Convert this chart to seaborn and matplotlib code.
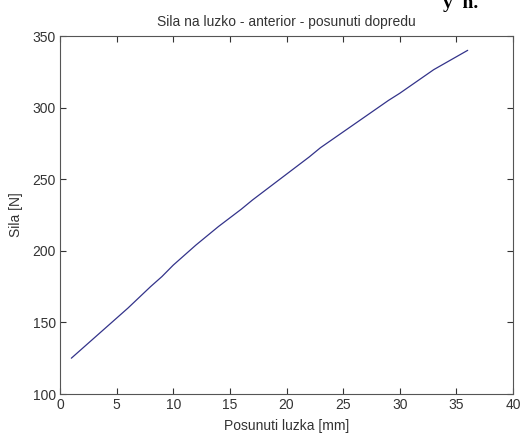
import matplotlib
matplotlib.use("Agg")
import matplotlib.pyplot as plt
import seaborn as sns
import pandas as pd

# data
posun_mm = [1, 2, 3, 4, 5, 6, 7, 8, 9, 10, 11, 12, 13, 14, 15, 16, 17, 18,
            19, 20, 21, 22, 23, 24, 25, 26, 27, 28, 29, 30, 31, 32, 33, 34, 35, 36]
sila_n = [125, 132, 139, 146, 153, 160, 167.5, 175, 182, 190, 197, 204, 210.5,
          217, 223, 229, 235.5, 241.5, 247.5, 253.5, 259.5, 265.5, 272, 277.5,
          283, 288.5, 294, 299.5, 305, 310, 315.5, 321, 326.5, 331, 335.5, 340]
x_ticks = [0, 5, 10, 15, 20, 25, 30, 35, 40]
y_ticks = [100, 150, 200, 250, 300, 350]

df = pd.DataFrame({"x": posun_mm, "y": sila_n})

sns.set_theme(style="ticks")
plt.rcParams["font.family"] = ["Liberation Sans", "DejaVu Sans"]

fig = plt.figure(figsize=(5.24, 4.33), dpi=100)
ax = fig.add_axes([60 / 524, 39 / 433, 453 / 524, 358 / 433])

sns.lineplot(data=df, x="x", y="y", ax=ax, color="#33338a", linewidth=0.9)

ax.set_xlim(0, 40)
ax.set_ylim(100, 350)
ax.set_xticks(x_ticks)
ax.set_yticks(y_ticks)
ax.tick_params(direction="in", length=4, width=0.8, colors="#333333",
               labelsize=10, top=True, right=True, pad=3,
               labelcolor="#333333")
for s in ax.spines.values():
    s.set_color("#555555")
    s.set_linewidth(0.8)

ax.set_title("Sila na luzko - anterior - posunuti dopredu", fontsize=10,
             color="#333333", pad=7)
ax.set_xlabel("Posunuti luzka [mm]", fontsize=10, color="#333333", labelpad=5)
ax.set_ylabel("Sila [N]", fontsize=10, color="#333333", labelpad=7)

fig.text(0.845, 1 - 8 / 433, "y  n.", fontsize=14, weight="bold",
         family="Liberation Serif", va="baseline", color="black")

fig.savefig("out.png", dpi=100, facecolor="white")
